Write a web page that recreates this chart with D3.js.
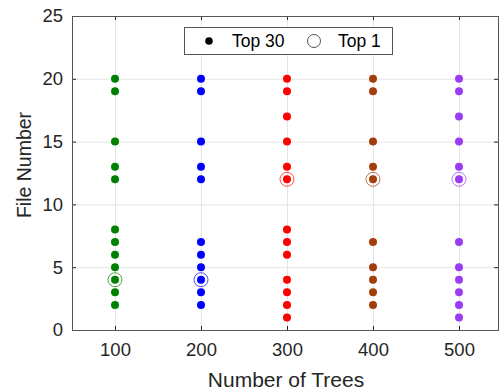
<!DOCTYPE html>
<meta charset="utf-8">
<style>
  body { margin: 0; background: #fff; }
  svg { font-family: "Liberation Sans", Arial, sans-serif; }
  .grid line { stroke: #e5e5e5; }
  .axis text { fill: #262626; font-size: 18.5px; }
</style>
<body>
<script src="https://cdn.jsdelivr.net/npm/d3@7"></script>
<script>
// trees setting for each group
var trees = [100, 200, 300, 400, 500];
var colors = ["#008000", "#0000ff", "#ff0000", "#a33e0c", "#9b3cf5"];

// file numbers in the top 30 for each setting
var top30 = [
  [20, 19, 15, 13, 12, 8, 7, 6, 5, 4, 3, 2],
  [20, 19, 15, 13, 12, 7, 6, 5, 4, 3, 2],
  [20, 19, 17, 15, 13, 12, 8, 7, 6, 4, 3, 2, 1],
  [20, 19, 15, 13, 12, 7, 5, 4, 3, 2],
  [20, 19, 17, 15, 13, 12, 7, 5, 4, 3, 2, 1]
];
// the best file for each setting
var top1 = [4, 4, 12, 12, 12];

var xTicks = [100, 200, 300, 400, 500];
var yTicks = [0, 5, 10, 15, 20, 25];

var width = 499, height = 392;
var mLeft = 72, mTop = 16, mRight = 502, mBottom = 330;

var svg = d3.select("body").append("svg")
  .attr("width", width)
  .attr("height", height);

var x = d3.scaleLinear().domain([50, 550]).range([mLeft, mRight]);
var y = d3.scaleLinear().domain([0, 25]).range([mBottom, mTop]);

// grid
var grid = svg.append("g").attr("class", "grid");
grid.selectAll(".gx").data(xTicks).enter().append("line")
  .attr("x1", d => x(d) + 0.5).attr("x2", d => x(d) + 0.5)
  .attr("y1", mTop).attr("y2", mBottom);
grid.selectAll(".gy").data(yTicks).enter().append("line")
  .attr("y1", d => y(d) + 0.5).attr("y2", d => y(d) + 0.5)
  .attr("x1", mLeft).attr("x2", mRight);

// axes, ticks pointing inward
var xAxis = svg.append("g").attr("class", "axis")
  .attr("transform", "translate(0," + mBottom + ")")
  .call(d3.axisTop(x).tickValues(xTicks).tickSize(4).tickSizeOuter(0));
xAxis.selectAll("text").attr("y", 13).attr("dy", "0.71em");

var yAxis = svg.append("g").attr("class", "axis")
  .attr("transform", "translate(" + mLeft + ",0)")
  .call(d3.axisRight(y).tickValues(yTicks).tickSize(4).tickSizeOuter(0));
yAxis.selectAll("text").attr("x", -9).attr("text-anchor", "end");

svg.append("g").attr("class", "axis")
  .attr("transform", "translate(0," + mTop + ")")
  .call(d3.axisBottom(x).tickValues(xTicks).tickSize(4).tickSizeOuter(0).tickFormat(""));
svg.append("g").attr("class", "axis")
  .attr("transform", "translate(" + (mRight - 4) + ",0)")
  .call(d3.axisLeft(y).tickValues(yTicks).tickSize(4).tickSizeOuter(0).tickFormat(""));

svg.selectAll(".axis path, .axis line").attr("stroke", "#262626");
svg.selectAll(".axis .domain").attr("stroke", "#555");

// frame
svg.append("rect")
  .attr("x", mLeft + 0.5).attr("y", mTop + 0.5)
  .attr("width", mRight - mLeft).attr("height", mBottom - mTop)
  .attr("fill", "none").attr("stroke", "#555");

// top 30 dots
trees.forEach(function (t, i) {
  svg.append("g").selectAll("circle")
    .data(top30[i]).enter().append("circle")
    .attr("cx", x(t))
    .attr("cy", d => y(d))
    .attr("r", 4)
    .attr("fill", colors[i]);
});

// top 1 rings
svg.append("g").selectAll("circle")
  .data(top1).enter().append("circle")
  .attr("cx", (d, i) => x(trees[i]))
  .attr("cy", d => y(d))
  .attr("r", 7)
  .attr("fill", "none")
  .attr("stroke", (d, i) => colors[i])
  .attr("stroke-opacity", 0.7)
  .attr("stroke-width", 1);

// axis titles
svg.append("text")
  .attr("x", 286).attr("y", 387)
  .attr("text-anchor", "middle")
  .attr("fill", "#262626").attr("font-size", "21px")
  .text("Number of Trees");

svg.append("text")
  .attr("transform", "translate(31,165) rotate(-90)")
  .attr("text-anchor", "middle")
  .attr("fill", "#262626").attr("font-size", "19.5px")
  .text("File Number");

// legend
var lg = svg.append("g");
lg.append("rect")
  .attr("x", 184.5).attr("y", 27.5).attr("width", 208).attr("height", 27)
  .attr("fill", "#fff").attr("stroke", "#555");
lg.append("circle").attr("cx", 209).attr("cy", 41).attr("r", 3.8).attr("fill", "#000");
lg.append("text").attr("x", 232).attr("y", 47)
  .attr("font-size", "17.5px").attr("fill", "#000").text("Top 30");
lg.append("circle").attr("cx", 314).attr("cy", 41).attr("r", 6.5)
  .attr("fill", "none").attr("stroke", "#555");
lg.append("text").attr("x", 338).attr("y", 47)
  .attr("font-size", "17.5px").attr("fill", "#000").text("Top 1");
</script>
</body>
